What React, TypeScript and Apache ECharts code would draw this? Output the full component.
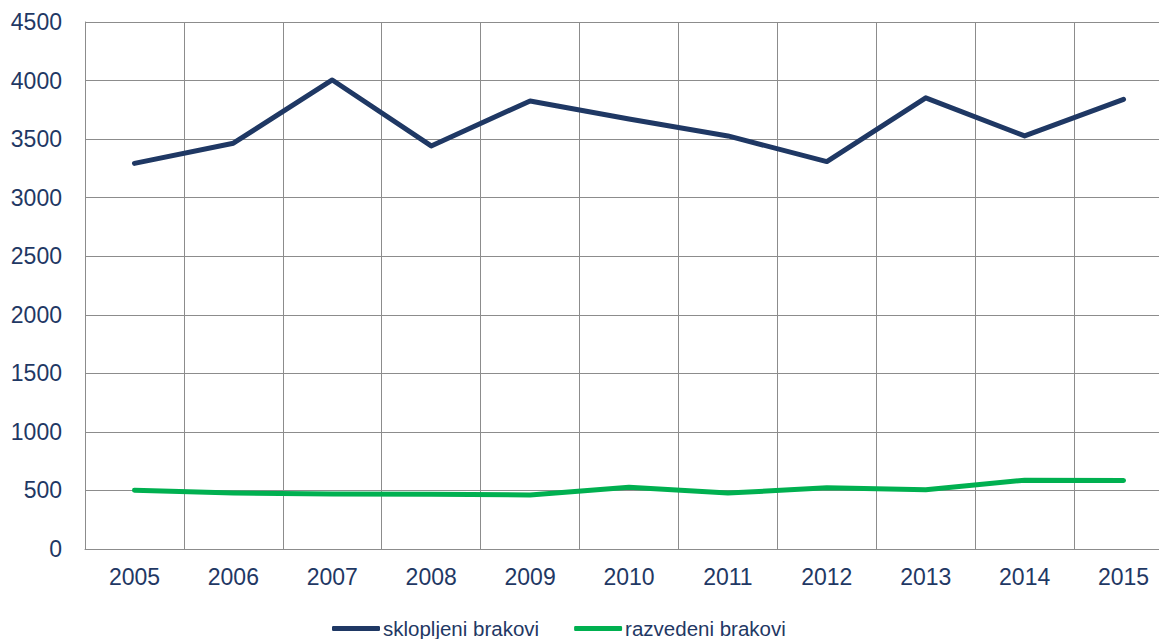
import React, { useEffect, useRef } from "react";
import * as echarts from "echarts";

const years = ["2005", "2006", "2007", "2008", "2009", "2010", "2011", "2012", "2013", "2014", "2015"];
const sklopljeni = [3293, 3465, 4005, 3442, 3826, 3672, 3527, 3308, 3852, 3527, 3840];
const razvedeni = [502, 478, 470, 468, 461, 527, 478, 522, 506, 588, 584];

const NAVY = "#1F3864";
const GREEN = "#00B050";
const GRID = "#8C8C8C";

export default function App() {
  const ref = useRef<HTMLDivElement>(null);
  useEffect(() => {
    if (!ref.current) return;
    const chart = echarts.init(ref.current, undefined, { renderer: "svg" });
    chart.setOption({
      animation: false,
      textStyle: { fontFamily: "Liberation Sans, Arial, sans-serif" },
      grid: {
        left: 85,
        top: 22,
        width: 1088,
        bottom: 90,
        containLabel: false,
        outerBoundsMode: "none",
      },
      legend: {
        left: 327,
        top: 613,
        icon: "roundRect",
        itemWidth: 48,
        itemHeight: 5,
        itemGap: 35,
        textStyle: {
          color: NAVY,
          fontSize: 20.5,
          padding: [0, 0, 0, -2],
          fontFamily: "Liberation Sans, Arial, sans-serif",
        },
        data: ["sklopljeni brakovi", "razvedeni brakovi"],
      },
      xAxis: {
        type: "category",
        data: years,
        boundaryGap: true,
        axisLine: { show: true, lineStyle: { color: GRID, width: 1 } },
        axisTick: { show: false },
        axisLabel: { color: NAVY, fontSize: 23, margin: 16, interval: 0 },
        splitLine: { show: true, interval: 0, lineStyle: { color: GRID, width: 1 } },
      },
      yAxis: {
        type: "value",
        min: 0,
        max: 4500,
        interval: 500,
        axisLine: { show: true, lineStyle: { color: GRID, width: 1 } },
        axisTick: { show: false },
        axisLabel: { color: NAVY, fontSize: 23, margin: 23, formatter: (v: number) => String(v) },
        splitLine: { show: true, lineStyle: { color: GRID, width: 1 } },
      },
      series: [
        {
          name: "sklopljeni brakovi",
          type: "line",
          data: sklopljeni,
          symbol: "none",
          itemStyle: { color: NAVY },
          lineStyle: { color: NAVY, width: 5, cap: "round", join: "round" },
        },
        {
          name: "razvedeni brakovi",
          type: "line",
          data: razvedeni,
          symbol: "none",
          itemStyle: { color: GREEN },
          lineStyle: { color: GREEN, width: 5, cap: "round", join: "round" },
        },
      ],
    });
    return () => chart.dispose();
  }, []);
  return (
    <div
      ref={ref}
      style={{ position: "absolute", left: 0, top: 0, width: 1159, height: 639 }}
    />
  );
}
